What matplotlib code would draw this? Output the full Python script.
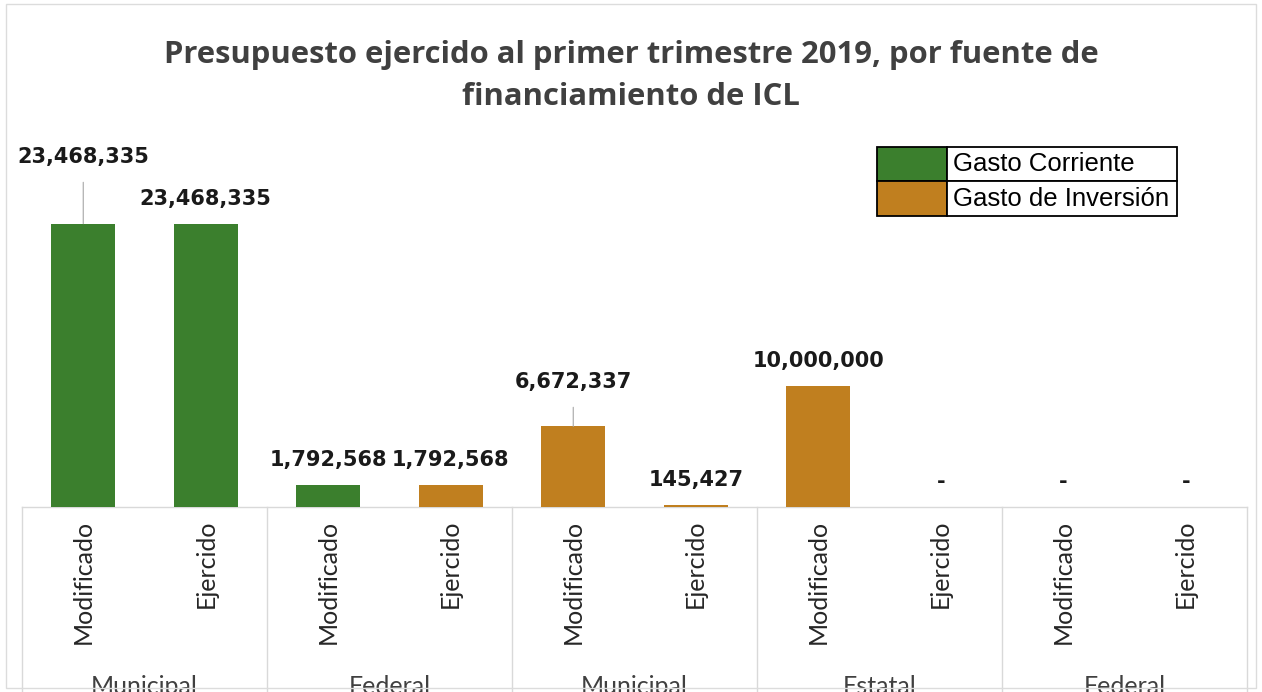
import matplotlib
matplotlib.use("Agg")
import matplotlib.pyplot as plt
from matplotlib.transforms import blended_transform_factory
from matplotlib.patches import Rectangle

# ---- data ----
title = "Presupuesto ejercido al primer trimestre 2019, por fuente de\nfinanciamiento de ICL"
bar_labels = ["Modificado", "Ejercido"] * 5
group_labels = ["Municipal", "Federal", "Municipal", "Estatal", "Federal"]
values = [23468335, 23468335, 1792568, 1792568, 6672337, 145427, 10000000, 0, 0, 0]
series = ["Gasto Corriente", "Gasto Corriente", "Gasto Corriente", "Gasto de Inversión",
          "Gasto de Inversión", "Gasto de Inversión", "Gasto de Inversión",
          "Gasto de Inversión", "Gasto de Inversión", "Gasto de Inversión"]
legend_labels = ["Gasto Corriente", "Gasto de Inversión"]
colors = {"Gasto Corriente": "#3b7f2d", "Gasto de Inversión": "#c07f1f"}
# label offsets (points above bar top); larger ones drawn with leader lines
label_offsets = [48, 18, 18, 18, 32, 18, 18, 18, 18, 18]

W, H = 1262, 692
fig = plt.figure(figsize=(W / 100, H / 100), dpi=100)
fig.patch.set_facecolor("white")

ax_left, ax_right, ax_top, ax_bottom = 22, 1247, 140, 507
ax = fig.add_axes([ax_left / W, (H - ax_bottom) / H, (ax_right - ax_left) / W,
                   (ax_bottom - ax_top) / H])
ax.set_facecolor("white")

x = list(range(len(values)))
bar_colors = [colors[s] for s in series]
ax.bar(x, values, width=0.52, color=bar_colors, zorder=3)

ax.set_xlim(-0.5, len(values) - 0.5)
ax.set_ylim(0, 30.4e6)
ax.set_yticks([])
for s in ["top", "right", "left"]:
    ax.spines[s].set_visible(False)
ax.spines["bottom"].set_color("#d9d9d9")
ax.spines["bottom"].set_linewidth(1)

ax.set_xticks(x)
ax.set_xticklabels(bar_labels, rotation=90, fontsize=18, family="Lato",
                   color="#262626")
ax.tick_params(axis="x", length=0, pad=9)

# value labels
for i, v in enumerate(values):
    txt = f"{v:,}" if v > 0 else "-"
    off = label_offsets[i]
    if off > 20:
        ax.annotate(txt, xy=(i, v), xytext=(0, off), textcoords="offset points",
                    ha="center", va="center", fontsize=15, fontweight="bold",
                    family="DejaVu Sans", color="#1a1a1a",
                    arrowprops=dict(arrowstyle="-", color="#a6a6a6", lw=0.8,
                                    shrinkA=9, shrinkB=0))
    else:
        ax.annotate(txt, xy=(i, v), xytext=(0, off), textcoords="offset points",
                    ha="center", va="center", fontsize=15, fontweight="bold",
                    family="DejaVu Sans", color="#1a1a1a")

# group separators and group labels
trans = blended_transform_factory(ax.transData, ax.transAxes)
n_groups = len(group_labels)
for g in range(n_groups + 1):
    xs = 2 * g - 0.5
    ax.plot([xs, xs], [0, -0.6], transform=trans, color="#d9d9d9", lw=1,
            clip_on=False)
for g, lab in enumerate(group_labels):
    ax.text(2 * g + 0.5, -0.49, lab, transform=trans, ha="center", va="center",
            fontsize=18, family="Lato", color="#404040")

# title
fig.text(0.5, (H - 76) / H, title, ha="center", va="center", fontsize=22.3,
         fontweight="bold", family="Open Sans", color="#404040",
         linespacing=1.5)

# legend as a bordered table
lx0, lx1, ly0, ly1 = 877, 1177, 147, 216
bbox = [(lx0 - ax_left) / (ax_right - ax_left), (ax_bottom - ly1) / (ax_bottom - ax_top),
        (lx1 - lx0) / (ax_right - ax_left), (ly1 - ly0) / (ax_bottom - ax_top)]
tbl = ax.table(cellText=[["", lab] for lab in legend_labels],
               cellColours=[[colors[lab], "white"] for lab in legend_labels],
               colWidths=[0.235, 0.765], bbox=bbox, cellLoc="left", zorder=5)
tbl.auto_set_font_size(False)
for (r, c), cell in tbl.get_celld().items():
    cell.set_edgecolor("black")
    cell.set_linewidth(1.3)
    cell.get_text().set_fontsize(18.5)
    cell.get_text().set_family("Liberation Sans")
    cell.PAD = 0.025

# faint outer frame
fig.patches.append(Rectangle((6 / W, 4 / H), 1 - 12 / W, 1 - 8 / H,
                             transform=fig.transFigure, fill=False,
                             edgecolor="#dcdcdc", lw=1))

fig.savefig("out.png", dpi=100, facecolor="white")
